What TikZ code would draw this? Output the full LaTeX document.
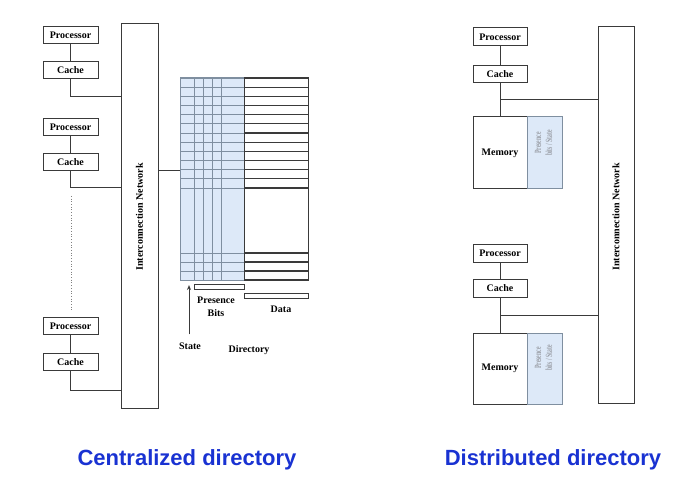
\documentclass[tikz,border=0pt]{standalone}
\usepackage{fontspec}
\setmainfont{Liberation Serif}
\newfontfamily\titlefont{Liberation Sans}
\usetikzlibrary{arrows.meta}
\definecolor{ln}{HTML}{3A3A3A}
\definecolor{gridblue}{HTML}{DDE9F8}
\definecolor{gridline}{HTML}{7F8FA0}
\definecolor{prestext}{HTML}{9A9EA6}
\definecolor{titleblue}{RGB}{25,50,210}
\begin{document}
\begin{tikzpicture}[x=1pt,y=-1pt,
  box/.style={draw=ln, line width=1pt, fill=white, minimum width=55pt, minimum height=17pt, inner sep=0pt, font=\bfseries\fontsize{10}{11}\selectfont},
  membox/.style={draw=ln, line width=1pt, fill=white, minimum width=54pt, inner sep=0pt, font=\bfseries\fontsize{10}{11}\selectfont},
  presbox/.style={draw=gridline, line width=1pt, fill=gridblue, minimum width=35pt, inner sep=0pt},
  prestxt/.style={rotate=90, align=center, inner sep=0pt, text=prestext, font=\bfseries\fontsize{9.5}{11}\selectfont},
  wire/.style={draw=ln, line width=1pt},
  netbox/.style={draw=ln, line width=1pt, inner sep=0pt},
  lbl/.style={font=\bfseries\fontsize{10}{13}\selectfont, inner sep=0pt, align=center},
  title/.style={font=\titlefont\bfseries\fontsize{22}{24}\selectfont, text=titleblue, inner sep=0pt}]
\useasboundingbox (0,0) rectangle (688,481);

% ---------------- Centralized ----------------
\node[box] (p1) at (70.5,35) {Processor};
\node[box] (c1) at (70.5,70.5) {Cache};
\node[box] (p2) at (70.5,127) {Processor};
\node[box] (c2) at (70.5,162) {Cache};
\node[box] (p3) at (70.5,326) {Processor};
\node[box] (c3) at (70.5,362) {Cache};
\node[netbox, minimum width=37pt, minimum height=384pt] (n1) at (139.5,216) {};
\node[lbl, rotate=90] (n1t) at (139.5,217) {Interconnection Network};

\draw[wire] (p1) -- (c1);
\draw[wire] (p2) -- (c2);
\draw[wire] (p3) -- (c3);
\draw[wire] (c1.south) |- (n1.west |- 0,97);
\draw[wire] (c2.south) |- (n1.west |- 0,188);
\draw[wire] (c3.south) |- (n1.west |- 0,390);
\coordinate (d1) at (71,196);
\coordinate (d2) at (71,310);
\draw[gray, dotted, line width=0.7pt] (d1) -- (d2);

% directory table
\node[minimum width=128pt, minimum height=202pt, inner sep=0pt] (dir) at (244,179) {};
\fill[gridblue] (180,78) rectangle (244,280);
\foreach \x in {194,203,212,221} \draw[gridline, line width=0.9pt] (\x,78) -- (\x,280);
\foreach \i in {0,...,12} {
  \pgfmathsetmacro\yy{78+\i*110/12}
  \draw[gridline, line width=0.9pt] (180,\yy) -- (244,\yy);
  \draw[ln, line width=1.2pt] (244,\yy) -- (308,\yy);
}
\foreach \yy in {253,262,271,280} {
  \draw[gridline, line width=0.9pt] (180,\yy) -- (244,\yy);
  \draw[ln, line width=1.2pt] (244,\yy) -- (308,\yy);
}
\draw[gridline, line width=1pt] (180,78) rectangle (244,280);
\draw[ln, line width=1pt] (244,78) rectangle (308,280);
\draw[wire] (n1.east |- 0,171) -- (dir.west |- 0,171);

\node[draw=ln, line width=0.8pt, fill=white, minimum width=50pt, minimum height=5pt, inner sep=0pt] (pbar) at (219.5,286.5) {};
\node[draw=ln, line width=0.8pt, fill=white, minimum width=64pt, minimum height=5pt, inner sep=0pt] (dbar) at (276,295.5) {};

\node[lbl] (pres) at (216,306.5) {Presence\\Bits};
\node[lbl] (data) at (281,309) {Data};
\node[lbl] (state) at (190,346) {State};
\node[lbl] (dirl) at (249,350) {Directory};
\coordinate (sttip) at (189,285);
\draw[ln, line width=0.8pt, -{Stealth[open, length=5pt, width=4pt]}] ([xshift=-1pt, yshift=8pt]state.north) -- (sttip);

\node[title] (t1) at (187,460) {Centralized directory};

% ---------------- Distributed ----------------
\node[box, minimum width=54pt, minimum height=18pt] (rp1) at (500,37) {Processor};
\node[box, minimum width=54pt, minimum height=17pt] (rc1) at (500,74.5) {Cache};
\node[membox, minimum height=72pt] (m1) at (500,153) {Memory};
\node[presbox, minimum height=72pt] (s1) at (544.5,153) {};
\node[prestxt] (s1t) at (543.5,143) {\scalebox{0.6}[1]{Presence}\\\scalebox{0.6}[1]{bits / State}};

\node[box, minimum width=54pt, minimum height=18pt] (rp2) at (500,253) {Processor};
\node[box, minimum width=54pt, minimum height=18pt] (rc2) at (500,288) {Cache};
\node[membox, minimum height=71pt] (m2) at (500,368.5) {Memory};
\node[presbox, minimum height=71pt] (s2) at (544.5,368.5) {};
\node[prestxt] (s2t) at (543.5,358) {\scalebox{0.6}[1]{Presence}\\\scalebox{0.6}[1]{bits / State}};

\node[netbox, minimum width=36pt, minimum height=376pt] (n2) at (616,215) {};
\node[lbl, rotate=90] (n2t) at (616,217) {Interconnection Network};

\draw[wire] (rp1) -- (rc1);
\draw[wire] (rc1) -- (m1);
\draw[wire] (rc1.south |- 0,100) -- (n2.west |- 0,100);
\draw[wire] (rp2) -- (rc2);
\draw[wire] (rc2) -- (m2);
\draw[wire] (rc2.south |- 0,315) -- (n2.west |- 0,315);

\node[title] (t2) at (553,460) {Distributed directory};
\end{tikzpicture}
\end{document}
